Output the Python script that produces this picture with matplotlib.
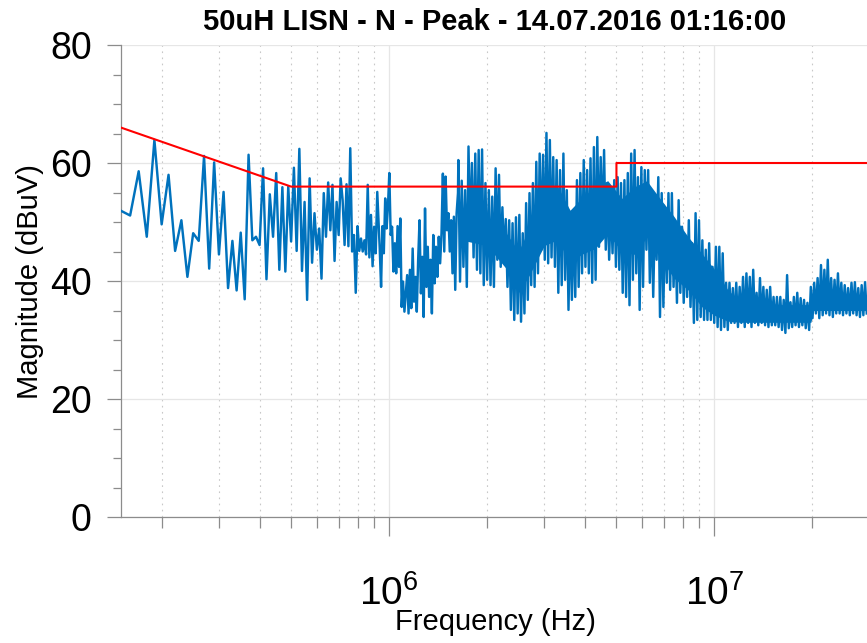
import numpy as np
import matplotlib
matplotlib.use('agg')
import matplotlib.pyplot as plt
from matplotlib.ticker import LogLocator, MultipleLocator, NullFormatter

plt.rcParams['font.family'] = ['Liberation Sans Narrow', 'Liberation Sans', 'DejaVu Sans']
plt.rcParams['mathtext.fontset'] = 'custom'
plt.rcParams['mathtext.rm'] = 'Liberation Sans'

# receiver sweep, 150 kHz start, 10 kHz step (resolved part of the trace)
sweep_start_khz = 150
sweep_step_khz = 10
mag_sweep = [51.9, 51.1, 58.6, 47.5, 63.9, 49.6, 58.0, 45.1, 50.3, 40.7,
             48.1, 46.8, 61.2, 42.1, 60.1, 44.5, 55.1, 38.8, 46.8, 38.4,
             48.2, 36.9, 61.4, 46.9, 47.5, 46.1, 59.1, 40.3, 54.7, 47.5,
             58.3, 41.9, 55.9, 41.6, 56.0, 46.7, 59.2, 45.1, 62.4, 41.7,
             53.4, 36.8, 57.4, 43.1, 51.5, 45.3, 48.9, 40.4, 54.9, 47.5,
             56.7, 48.6, 56.3, 43.4, 53.4, 47.8, 57.4, 53.7, 46.1, 56.4,
             45.9, 62.5, 45.0, 47.8, 38.0, 49.3, 45.1, 47.2, 45.0, 46.9,
             44.5, 56.3, 44.0, 51.2, 42.5, 49.2, 44.7, 55.1]

# 0.94 - 1.63 MHz, trace vertices read in order
segb_start_mhz = 0.936
segb_stop_mhz = 1.629
mag_segb = [45.6, 39.0, 49.3, 44.7, 54.0, 48.9, 52.6, 58.3, 47.8, 49.2,
            41.6, 46.4, 41.3, 49.3, 42.4, 50.6, 35.6, 39.9, 34.8, 37.9,
            41.0, 34.5, 41.9, 35.4, 45.5, 36.5, 40.7, 34.8, 43.6, 50.3,
            37.9, 44.1, 33.9, 52.3, 39.0, 45.8, 37.3, 43.6, 34.5, 47.8,
            39.6, 45.8, 40.7, 47.5, 43.0, 48.1, 58.2, 45.0, 57.7, 48.6,
            51.5, 45.0, 50.3, 41.3, 50.9, 38.5, 51.5, 54.9]

# 1.63 - 29.4 MHz, dense part: peak / trough per reading bin
segc_start_mhz = 1.633
segc_stop_mhz = 29.4
segc_hi = [60.5, 57.0, 55.4, 62.8, 60.0, 61.6, 62.2, 62.3, 56.6, 55.4,
           54.3, 59.1, 58.0, 52.5, 50.5, 50.3, 49.8, 50.8, 51.2, 48.1,
           53.2, 54.9, 56.6, 60.2, 61.6, 61.4,
           65.1, 63.9, 61.0, 60.5, 58.8, 61.6, 55.4, 51.5, 50.8, 57.1,
           58.3, 60.5, 58.8, 60.8, 62.7, 64.4, 61.0, 62.2, 55.4, 53.7,
           57.1, 57.6, 56.6, 57.1, 58.3, 61.6, 62.2, 57.6, 59.3,
           58.8, 58.8, 52.5, 51.5, 57.6, 54.9, 52.0, 54.9, 54.9, 49.8,
           53.7, 49.2, 47.5, 50.3, 46.4, 51.5, 50.3, 46.9, 45.3, 46.4,
           42.4, 45.8, 45.8, 44.7, 39.7, 39.7, 38.8, 39.7, 39.0, 40.7,
           41.3,
           40.7, 41.9, 38.0, 40.5, 39.0, 38.5, 39.0, 37.3, 37.3, 37.3,
           36.8, 41.0, 36.4, 37.3, 38.0, 37.1, 36.8, 36.3, 39.0, 39.7,
           40.5, 42.7, 41.9, 43.6, 40.5, 40.2, 41.3, 39.7, 39.3, 38.8,
           39.7, 39.8, 38.8, 39.3, 39.8]
segc_lo = [39.9, 42.4, 39.0, 47.0, 44.0, 41.9, 41.3, 39.3, 40.2, 39.3,
           39.0, 43.6, 42.4, 44.0, 39.0, 35.1, 33.4, 34.5, 33.1, 34.5,
           36.8, 39.3, 39.0, 41.3, 45.3, 43.6,
           43.0, 44.0, 42.4, 38.0, 39.3, 40.2, 35.1, 36.8, 37.3, 39.0,
           41.3, 42.4, 41.3, 39.7, 40.2, 45.8, 48.1, 45.3, 43.6, 44.7,
           42.4, 41.9, 38.0, 37.3, 35.9, 40.2, 41.3, 35.1, 39.0,
           45.3, 39.7, 37.3, 43.6, 33.9, 35.6, 39.7, 38.5, 39.0, 36.3,
           38.0, 36.3, 37.3, 35.6, 32.9, 33.4, 33.9, 33.4, 33.4, 33.4,
           32.9, 32.2, 31.7, 32.2, 31.7, 32.9, 32.9, 32.2, 32.9, 32.2,
           32.9,
           32.2, 32.9, 32.5, 32.9, 32.5, 32.2, 32.5, 32.5, 32.2, 31.7,
           31.2, 32.0, 32.2, 32.5, 32.2, 32.5, 32.0, 31.7, 33.7, 34.5,
           33.7, 34.2, 34.5, 34.2, 33.9, 34.5, 34.5, 34.2, 34.5, 34.2,
           34.5, 34.2, 33.9, 34.2, 34.5]

# solid core of the dense trace (where the samples overlap)
core_mhz = [1.65, 2.0, 2.3, 2.5, 2.7, 3.0, 3.3, 3.6, 3.9, 4.3, 4.7, 5.2, 5.7,
            6.2, 6.8, 7.5, 8.3, 9.2, 10.0, 11.0, 12.0, 16.0, 19.8, 20.2, 25.0, 29.4]
core_top = [52.0, 51.0, 48.0, 45.0, 49.0, 56.0, 56.0, 52.0, 54.0, 56.0, 57.0, 54.0, 56.0,
            57.0, 54.0, 51.0, 47.5, 44.5, 42.0, 38.5, 36.5, 36.0, 36.0, 37.5, 37.5, 37.5]
core_bot = [47.0, 46.0, 42.0, 38.0, 41.0, 46.0, 47.0, 43.0, 44.5, 45.5, 48.0, 45.0, 44.5,
            47.5, 44.0, 40.5, 38.5, 35.5, 34.2, 33.2, 33.0, 33.0, 33.0, 35.0, 35.0, 35.0]

# limit line
limit_mhz = [0.15, 0.5, 5.0, 5.0, 30.0]
limit_db = [66.0, 56.0, 56.0, 60.0, 60.0]

f_a = (sweep_start_khz + sweep_step_khz * np.arange(len(mag_sweep))) * 1e3
f_b = np.geomspace(segb_start_mhz, segb_stop_mhz, len(mag_segb)) * 1e6
f_c = np.geomspace(segc_start_mhz, segc_stop_mhz, 2 * len(segc_hi)) * 1e6
mag_c = np.column_stack([segc_hi, segc_lo]).ravel()

freq = np.concatenate([f_a, f_b, f_c])
mag = np.concatenate([mag_sweep, mag_segb, mag_c])

W, H = 867, 643
fig = plt.figure(figsize=(W / 100, H / 100), dpi=100)
ax = fig.add_axes([121 / W, 126 / H, (869.6 - 121) / W, 472 / H])

blue = '#0072BD'
ax.fill_between(np.array(core_mhz) * 1e6, core_bot, core_top, color=blue, lw=0, zorder=3)
ax.plot(freq, mag, color=blue, lw=1.75, zorder=3)
ax.plot(np.array(limit_mhz) * 1e6, limit_db, color='#FF0000', lw=1.5, zorder=4)

ax.set_xscale('log')
ax.set_xlim(0.15e6, 30e6)
ax.set_ylim(0, 80)
ax.xaxis.set_major_locator(LogLocator(base=10, numticks=10))
ax.xaxis.set_minor_locator(LogLocator(base=10, subs=np.arange(2, 10), numticks=20))
ax.xaxis.set_minor_formatter(NullFormatter())
ax.yaxis.set_major_locator(MultipleLocator(20))
ax.yaxis.set_minor_locator(MultipleLocator(5))

ax.grid(which='major', color='#e6e6e6', lw=0.9, zorder=0)
ax.xaxis.grid(which='minor', color='#c8c8c8', ls=(0, (1.5, 4)), lw=0.8)
ax.yaxis.grid(False, which='minor')
ax.set_axisbelow(True)

for s in ['top', 'right']:
    ax.spines[s].set_visible(False)
for s in ['left', 'bottom']:
    ax.spines[s].set_color('#8c8c8c')
    ax.spines[s].set_linewidth(0.9)

ax.tick_params(which='both', direction='out', color='#8c8c8c', width=0.9)
ax.tick_params(axis='y', which='major', length=10, pad=11, labelsize=27)
ax.tick_params(axis='y', which='minor', length=6)
ax.tick_params(axis='x', which='major', length=14, pad=28, labelsize=28)
ax.tick_params(axis='x', which='minor', length=8)
for lab in ax.get_yticklabels():
    lab.set_family('Liberation Sans')

fig.text(495 / W, 1 - 22 / H, '50uH LISN - N - Peak - 14.07.2016 01:16:00',
         ha='center', va='center', fontsize=21, fontweight='bold')
fig.text(495 / W, 1 - 622 / H, 'Frequency (Hz)', ha='center', va='center', fontsize=21)
fig.text(30 / W, 1 - 282 / H, 'Magnitude (dBuV)', ha='center', va='center',
         rotation=90, fontsize=21)

fig.savefig('out.png', dpi=100, facecolor='white')
